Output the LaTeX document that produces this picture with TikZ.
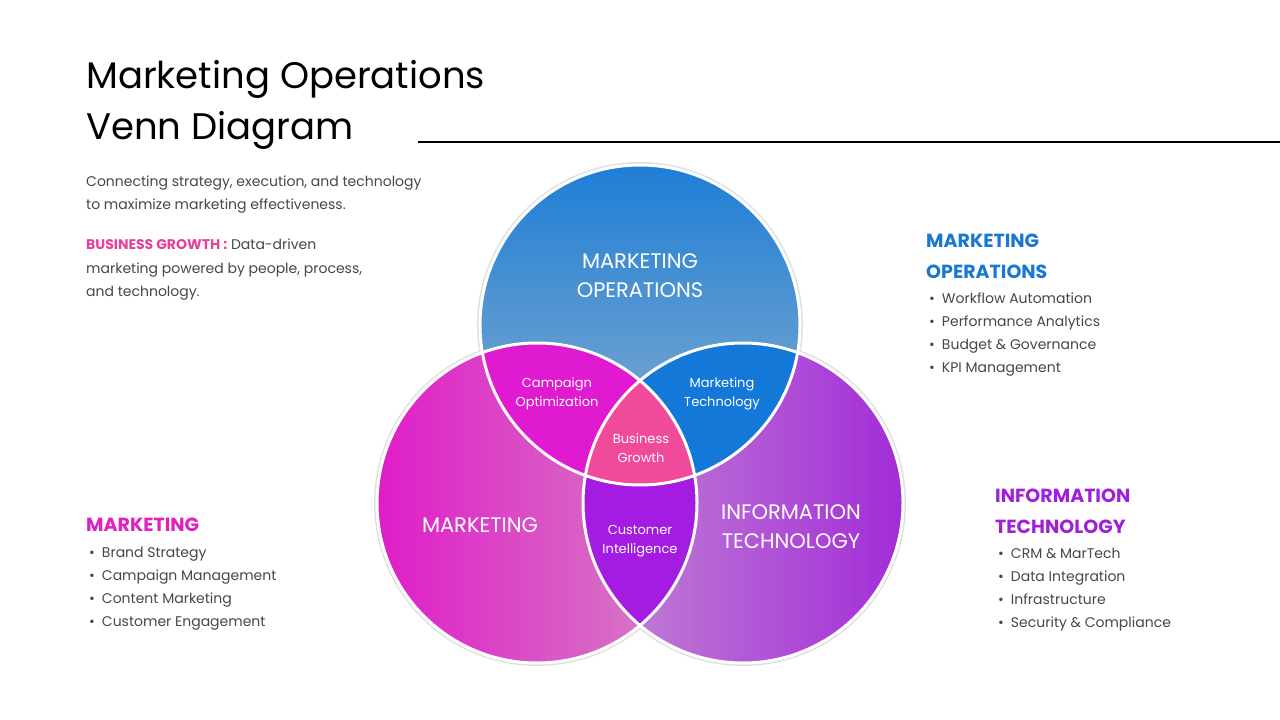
\documentclass[tikz,border=0pt]{standalone}
\usepackage{fontspec}
\setmainfont{Poppins}
\begin{document}
\begin{tikzpicture}[x=1pt,y=-1pt,
  body/.style={anchor=base west,text=black!72,font=\fontsize{14}{17}\selectfont,inner sep=0},
  head/.style={anchor=west,font=\fontsize{19}{31}\selectfont\bfseries,inner sep=0,align=left},
  big/.style={text=white,font=\fontsize{21}{29}\selectfont,align=center},
  small/.style={text=white,font=\fontsize{13}{19}\selectfont,align=center},
  ring/.style={draw=white,line width=3pt},
  halo/.style={draw=black!12,line width=6pt}]
\definecolor{mpink}{HTML}{E020C0}
\definecolor{mblue}{HTML}{1A78D0}
\definecolor{mpurp}{HTML}{A020D8}
\definecolor{bgpink}{HTML}{E8409A}
\definecolor{ctop}{HTML}{1E7ED6}
\definecolor{cbot}{HTML}{8EB0CC}
\definecolor{lleft}{HTML}{E01CC8}
\definecolor{lright}{HTML}{D486C4}
\definecolor{rleft}{HTML}{C488D4}
\definecolor{rright}{HTML}{A22CD8}
\definecolor{itl}{HTML}{E01AD0}
\definecolor{itr}{HTML}{1478D8}
\definecolor{ibot}{HTML}{A41CE2}
\definecolor{icen}{HTML}{F04A9A}
\useasboundingbox (0,0) rectangle (1280,720);
\fill[white] (0,0) rectangle (1280,720);
% title
\node[anchor=north west,inner sep=0,align=left,font=\fontsize{37}{51}\selectfont] (title) at (86,60) {Marketing Operations\\Venn Diagram};
\coordinate (l1) at (418,142); \coordinate (l2) at (1280,142);
\draw[line width=1.5pt] (l1) -- (l2);
% circles
\coordinate (T) at (640,325); \coordinate (L) at (537,503); \coordinate (R) at (743,503);
\def\rr{160}
\draw[halo] (T) circle (\rr); \draw[halo] (L) circle (\rr); \draw[halo] (R) circle (\rr);
\shade[top color=ctop,bottom color=cbot] (T) circle (\rr);
\shade[left color=lleft,right color=lright] (L) circle (\rr);
\shade[left color=rleft,right color=rright] (R) circle (\rr);
\begin{scope}\clip (T) circle (\rr); \fill[itl] (L) circle (\rr); \fill[itr] (R) circle (\rr);\end{scope}
\begin{scope}\clip (L) circle (\rr); \fill[ibot] (R) circle (\rr);\end{scope}
\begin{scope}\clip (T) circle (\rr); \clip (L) circle (\rr); \fill[icen] (R) circle (\rr);\end{scope}
\draw[ring] (T) circle (\rr); \draw[ring] (L) circle (\rr); \draw[ring] (R) circle (\rr);
% labels
\node[big] (mo) at (640,276) {MARKETING\\OPERATIONS};
\node[big] (mk) at (480,525) {MARKETING};
\node[big] (it) at (791,527) {INFORMATION\\TECHNOLOGY};
\node[small] (co) at (557,394) {Campaign\\Optimization};
\node[small] (mt) at (722,394) {Marketing\\Technology};
\node[small] (bg) at (641,448) {Business\\Growth};
\node[small] (ci) at (640,541) {Customer\\Intelligence};
% left text
\node[body] (d1) at (86,186) {Connecting strategy, execution, and technology};
\node[body] (d2) at (86,209) {to maximize marketing effectiveness.};
\node[body] (b1) at (86,249) {\textcolor{bgpink}{\bfseries BUSINESS GROWTH :} Data-driven};
\node[body] (b2) at (86,273) {marketing powered by people, process,};
\node[body] (b3) at (86,296) {and technology.};
% marketing ops list
\node[head,text=mblue] (h1) at (926,256) {MARKETING\\OPERATIONS};
\foreach \t [count=\i] in {Workflow Automation,Performance Analytics,Budget \& Governance,KPI Management}
  \node[body] (mo\i) at (929,{303+23*(\i-1)}) {\textbullet\hspace{7pt}\t};
% IT list
\node[head,text=mpurp] (h2) at (995,511) {INFORMATION\\TECHNOLOGY};
\foreach \t [count=\i] in {CRM \& MarTech,Data Integration,Infrastructure,Security \& Compliance}
  \node[body] (it\i) at (998,{558+23*(\i-1)}) {\textbullet\hspace{7pt}\t};
% marketing list
\node[head,text=mpink] (h3) at (86,525) {MARKETING};
\foreach \t [count=\i] in {Brand Strategy,Campaign Management,Content Marketing,Customer Engagement}
  \node[body] (mk\i) at (89,{557+23*(\i-1)}) {\textbullet\hspace{7pt}\t};
\end{tikzpicture}
\end{document}
